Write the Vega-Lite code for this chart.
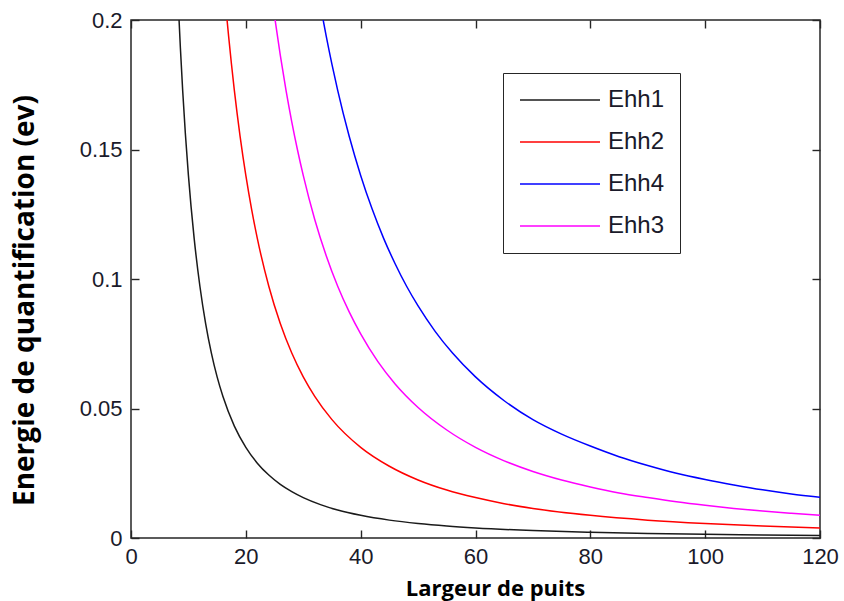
{
  "$schema": "https://vega.github.io/schema/vega-lite/v6.json",
  "width": 689,
  "height": 518,
  "autosize": "none",
  "padding": {"left": 131, "top": 20, "right": 24, "bottom": 63},
  "background": "white",
  "config": {
    "view": {"stroke": "#262626", "strokeWidth": 1.5},
    "axis": {
      "grid": false,
      "domain": false,
      "ticks": true,
      "tickSize": 8,
      "offset": -8,
      "zindex": 1,
      "labelFlush": false,
      "labelOverlap": false,
      "tickColor": "#262626",
      "tickWidth": 1.4,
      "labelFont": "Liberation Sans",
      "labelFontSize": 22,
      "labelColor": "#1a1a2a",
      "titleFont": "Open Sans",
      "titleFontWeight": "bold",
      "titleColor": "#000000"
    }
  },
  "datasets": {
    "curves": [
      {"L": 8.37, "E": 0.2, "s": "Ehh1"},
      {"L": 8.6, "E": 0.1893, "s": "Ehh1"},
      {"L": 9, "E": 0.1728, "s": "Ehh1"},
      {"L": 10, "E": 0.14, "s": "Ehh1"},
      {"L": 11, "E": 0.1157, "s": "Ehh1"},
      {"L": 12, "E": 0.0972, "s": "Ehh1"},
      {"L": 13, "E": 0.0828, "s": "Ehh1"},
      {"L": 14, "E": 0.0714, "s": "Ehh1"},
      {"L": 15, "E": 0.0622, "s": "Ehh1"},
      {"L": 16, "E": 0.0547, "s": "Ehh1"},
      {"L": 18, "E": 0.0432, "s": "Ehh1"},
      {"L": 20, "E": 0.035, "s": "Ehh1"},
      {"L": 22, "E": 0.0289, "s": "Ehh1"},
      {"L": 24, "E": 0.0243, "s": "Ehh1"},
      {"L": 26, "E": 0.0207, "s": "Ehh1"},
      {"L": 28, "E": 0.0179, "s": "Ehh1"},
      {"L": 30, "E": 0.0156, "s": "Ehh1"},
      {"L": 33, "E": 0.0129, "s": "Ehh1"},
      {"L": 36, "E": 0.0108, "s": "Ehh1"},
      {"L": 40, "E": 0.00875, "s": "Ehh1"},
      {"L": 45, "E": 0.0069, "s": "Ehh1"},
      {"L": 50, "E": 0.0056, "s": "Ehh1"},
      {"L": 55, "E": 0.00463, "s": "Ehh1"},
      {"L": 60, "E": 0.00389, "s": "Ehh1"},
      {"L": 70, "E": 0.00286, "s": "Ehh1"},
      {"L": 80, "E": 0.00219, "s": "Ehh1"},
      {"L": 90, "E": 0.00173, "s": "Ehh1"},
      {"L": 100, "E": 0.0014, "s": "Ehh1"},
      {"L": 110, "E": 0.00116, "s": "Ehh1"},
      {"L": 120, "E": 0.00097, "s": "Ehh1"},

      {"L": 16.73, "E": 0.2, "s": "Ehh2"},
      {"L": 17, "E": 0.1938, "s": "Ehh2"},
      {"L": 17.5, "E": 0.1829, "s": "Ehh2"},
      {"L": 18, "E": 0.1728, "s": "Ehh2"},
      {"L": 19, "E": 0.1551, "s": "Ehh2"},
      {"L": 20, "E": 0.14, "s": "Ehh2"},
      {"L": 21, "E": 0.127, "s": "Ehh2"},
      {"L": 22, "E": 0.1157, "s": "Ehh2"},
      {"L": 24, "E": 0.0972, "s": "Ehh2"},
      {"L": 26, "E": 0.0828, "s": "Ehh2"},
      {"L": 28, "E": 0.0714, "s": "Ehh2"},
      {"L": 30, "E": 0.0622, "s": "Ehh2"},
      {"L": 32, "E": 0.0547, "s": "Ehh2"},
      {"L": 35, "E": 0.0457, "s": "Ehh2"},
      {"L": 40, "E": 0.035, "s": "Ehh2"},
      {"L": 45, "E": 0.0277, "s": "Ehh2"},
      {"L": 50, "E": 0.0224, "s": "Ehh2"},
      {"L": 55, "E": 0.0185, "s": "Ehh2"},
      {"L": 60, "E": 0.0156, "s": "Ehh2"},
      {"L": 65, "E": 0.01325, "s": "Ehh2"},
      {"L": 70, "E": 0.0114, "s": "Ehh2"},
      {"L": 80, "E": 0.00875, "s": "Ehh2"},
      {"L": 90, "E": 0.0069, "s": "Ehh2"},
      {"L": 100, "E": 0.0056, "s": "Ehh2"},
      {"L": 110, "E": 0.00463, "s": "Ehh2"},
      {"L": 120, "E": 0.00389, "s": "Ehh2"},

      {"L": 25.1, "E": 0.2, "s": "Ehh3"},
      {"L": 26, "E": 0.1864, "s": "Ehh3"},
      {"L": 27, "E": 0.1728, "s": "Ehh3"},
      {"L": 28, "E": 0.1607, "s": "Ehh3"},
      {"L": 29, "E": 0.1498, "s": "Ehh3"},
      {"L": 30, "E": 0.14, "s": "Ehh3"},
      {"L": 32, "E": 0.123, "s": "Ehh3"},
      {"L": 34, "E": 0.109, "s": "Ehh3"},
      {"L": 36, "E": 0.0972, "s": "Ehh3"},
      {"L": 38, "E": 0.0873, "s": "Ehh3"},
      {"L": 40, "E": 0.0788, "s": "Ehh3"},
      {"L": 43, "E": 0.0681, "s": "Ehh3"},
      {"L": 46, "E": 0.0595, "s": "Ehh3"},
      {"L": 50, "E": 0.0504, "s": "Ehh3"},
      {"L": 55, "E": 0.0417, "s": "Ehh3"},
      {"L": 60, "E": 0.035, "s": "Ehh3"},
      {"L": 65, "E": 0.0298, "s": "Ehh3"},
      {"L": 70, "E": 0.0257, "s": "Ehh3"},
      {"L": 75, "E": 0.0224, "s": "Ehh3"},
      {"L": 80, "E": 0.0197, "s": "Ehh3"},
      {"L": 85, "E": 0.0174, "s": "Ehh3"},
      {"L": 90, "E": 0.0156, "s": "Ehh3"},
      {"L": 95, "E": 0.01396, "s": "Ehh3"},
      {"L": 100, "E": 0.0126, "s": "Ehh3"},
      {"L": 105, "E": 0.01143, "s": "Ehh3"},
      {"L": 110, "E": 0.0104, "s": "Ehh3"},
      {"L": 115, "E": 0.00953, "s": "Ehh3"},
      {"L": 120, "E": 0.00875, "s": "Ehh3"},

      {"L": 33.47, "E": 0.2, "s": "Ehh4"},
      {"L": 34, "E": 0.1938, "s": "Ehh4"},
      {"L": 35, "E": 0.1829, "s": "Ehh4"},
      {"L": 36, "E": 0.1728, "s": "Ehh4"},
      {"L": 38, "E": 0.1551, "s": "Ehh4"},
      {"L": 40, "E": 0.14, "s": "Ehh4"},
      {"L": 42, "E": 0.127, "s": "Ehh4"},
      {"L": 44, "E": 0.1157, "s": "Ehh4"},
      {"L": 46, "E": 0.1059, "s": "Ehh4"},
      {"L": 48, "E": 0.0972, "s": "Ehh4"},
      {"L": 50, "E": 0.0896, "s": "Ehh4"},
      {"L": 53, "E": 0.0797, "s": "Ehh4"},
      {"L": 56, "E": 0.0714, "s": "Ehh4"},
      {"L": 60, "E": 0.0622, "s": "Ehh4"},
      {"L": 65, "E": 0.053, "s": "Ehh4"},
      {"L": 70, "E": 0.0457, "s": "Ehh4"},
      {"L": 75, "E": 0.0401, "s": "Ehh4"},
      {"L": 80, "E": 0.0355, "s": "Ehh4"},
      {"L": 85, "E": 0.0314, "s": "Ehh4"},
      {"L": 90, "E": 0.028, "s": "Ehh4"},
      {"L": 95, "E": 0.025, "s": "Ehh4"},
      {"L": 100, "E": 0.0226, "s": "Ehh4"},
      {"L": 105, "E": 0.0205, "s": "Ehh4"},
      {"L": 110, "E": 0.0186, "s": "Ehh4"},
      {"L": 115, "E": 0.017, "s": "Ehh4"},
      {"L": 120, "E": 0.0157, "s": "Ehh4"}
    ]
  },
  "data": {"name": "curves"},
  "layer": [
    {
      "mark": {"type": "line", "strokeWidth": 1.5, "interpolate": "monotone", "clip": true},
      "encoding": {
        "x": {
          "field": "L", "type": "quantitative",
          "scale": {"domain": [0, 120], "nice": false, "zero": false},
          "axis": {
            "orient": "bottom",
            "values": [0, 20, 40, 60, 80, 100, 120],
            "labelPadding": 8,
            "title": "Largeur de puits",
            "titleFontSize": 22,
            "titleX": 364,
            "titleY": 65,
            "titleBaseline": "alphabetic"
          }
        },
        "y": {
          "field": "E", "type": "quantitative",
          "scale": {"domain": [0, 0.2], "nice": false, "zero": false},
          "axis": {
            "orient": "left",
            "values": [0, 0.05, 0.1, 0.15, 0.2],
            "format": "~g",
            "labelPadding": 9,
            "title": "Energie de quantification (ev)",
            "titleFontSize": 28,
            "titleY": 280,
            "titleX": -100,
            "titleBaseline": "bottom"
          }
        },
        "color": {
          "field": "s", "type": "nominal",
          "scale": {"domain": ["Ehh1", "Ehh2", "Ehh4", "Ehh3"], "range": ["#1a1a1a", "#ff0000", "#0000ff", "#ff00ff"]},
          "legend": {
            "orient": "none",
            "legendX": 372,
            "legendY": 53,
            "title": null,
            "fillColor": "white",
            "strokeColor": "#262626",
            "padding": 15,
            "symbolType": "M-4,0H4",
            "symbolSize": 400,
            "symbolStrokeWidth": 1.5,
            "symbolOffset": 30,
            "labelOffset": 36,
            "labelFont": "Liberation Sans",
            "labelFontSize": 24,
            "labelColor": "#1a1a2a",
            "rowPadding": 18
          }
        }
      }
    },
    {
      "mark": {"type": "point", "opacity": 0},
      "encoding": {
        "x": {
          "field": "L", "type": "quantitative",
          "scale": {"domain": [0, 120], "nice": false, "zero": false},
          "axis": {"orient": "top", "values": [0, 20, 40, 60, 80, 100, 120], "labels": false, "title": null}
        },
        "y": {
          "field": "E", "type": "quantitative",
          "scale": {"domain": [0, 0.2], "nice": false, "zero": false},
          "axis": {"orient": "right", "values": [0, 0.05, 0.1, 0.15, 0.2], "labels": false, "title": null}
        }
      }
    }
  ],
  "resolve": {"axis": {"x": "independent", "y": "independent"}}
}
